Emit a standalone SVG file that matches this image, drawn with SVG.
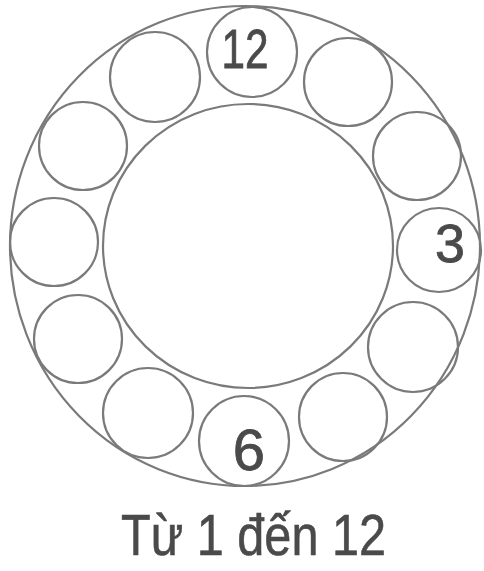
<svg xmlns="http://www.w3.org/2000/svg" width="484" height="571" viewBox="0 0 484 571">
<style>
.ring{fill:none;stroke:#7a7a7a;stroke-width:2.2}
.hole{fill:none;stroke:#7a7a7a;stroke-width:2.2}
.num{font-family:"Liberation Sans",Arial,sans-serif;fill:#4a4a4a;stroke:#4a4a4a;stroke-width:0.8;text-anchor:middle}
.cap{font-family:"Liberation Sans",Arial,sans-serif;fill:#4a4a4a;stroke:#4a4a4a;stroke-width:0.6}
</style>
<rect width="484" height="571" fill="#ffffff"/>
<g id="dial">
<ellipse class="ring" cx="245" cy="246" rx="235" ry="240"/>
<ellipse class="ring" cx="248" cy="246" rx="145" ry="142"/>
</g>
<g id="h12"><circle class="hole" cx="252" cy="52" r="45"/><text class="num" x="245" y="68" font-size="56" textLength="47" lengthAdjust="spacingAndGlyphs">12</text></g>
<g id="h1"><circle class="hole" cx="348" cy="82" r="44"/></g>
<g id="h2"><circle class="hole" cx="417" cy="156" r="44"/></g>
<g id="h3"><circle class="hole" cx="439" cy="250" r="42"/><text class="num" x="450" y="262" font-size="54">3</text></g>
<g id="h4"><circle class="hole" cx="413" cy="347" r="45"/></g>
<g id="h5"><circle class="hole" cx="343" cy="417" r="44"/></g>
<g id="h6"><circle class="hole" cx="244" cy="441" r="45"/><text class="num" x="249" y="470" font-size="58">6</text></g>
<g id="h7"><circle class="hole" cx="148" cy="413" r="45"/></g>
<g id="h8"><circle class="hole" cx="78" cy="339" r="44"/></g>
<g id="h9"><circle class="hole" cx="54" cy="242" r="44"/></g>
<g id="h10"><circle class="hole" cx="83" cy="146" r="44"/></g>
<g id="h11"><circle class="hole" cx="155" cy="77" r="45"/></g>
<g id="caption"><text class="cap" x="121" y="555" font-size="58" textLength="265" lengthAdjust="spacingAndGlyphs">Từ 1 đến 12</text></g>
</svg>
